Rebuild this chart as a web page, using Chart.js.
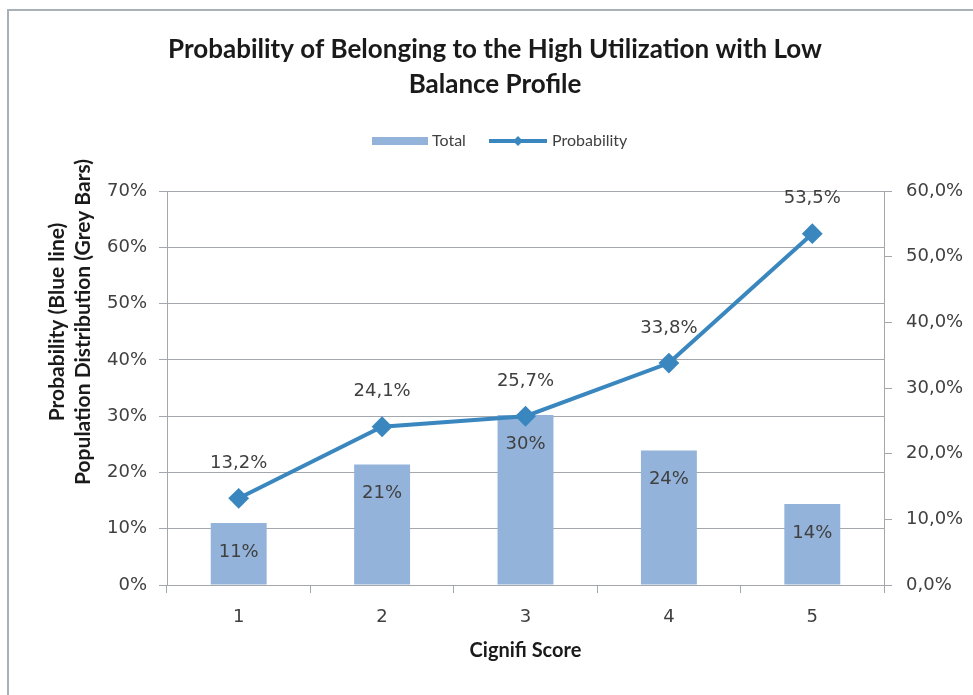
<!DOCTYPE html>
<html>
<head>
<meta charset="utf-8">
<title>Probability of Belonging to the High Utilization with Low Balance Profile</title>
<script src="https://cdn.jsdelivr.net/npm/chart.js@4"></script>
<style>
  html, body { margin: 0; padding: 0; background: #ffffff; }
  canvas { display: block; }
</style>
</head>
<body>
<canvas id="chart" width="973" height="695"></canvas>
<script>
// Score buckets and the two series plotted against them
const categories = ['1', '2', '3', '4', '5'];
const populationShare = [11.0, 21.4, 30.2, 23.9, 14.4];   // % of population (bars, left axis)
const probability = [13.2, 24.1, 25.7, 33.8, 53.5];        // % probability (line, right axis)

const titleLines = ['Probability of Belonging to the High Utilization with Low', 'Balance Profile'];
const leftAxisTitle = ['Probability (Blue line)', 'Population Distribution (Grey Bars)'];
const xAxisTitle = 'Cignifi Score';
const leftAxisMax = 70;
const rightAxisMax = 60;

const BAR_COLOR = '#93b3da';
const LINE_COLOR = '#3a87bf';
const GRID_COLOR = '#a4a8ac';
const TEXT_COLOR = '#404040';
const TICK_FONT = { family: 'DejaVu Sans', size: 18 };

const fmtComma = (v, d) => v.toFixed(d).replace('.', ',') + '%';

// Title, legend, axis title and value labels drawn on the canvas
const decorations = {
  id: 'decorations',
  beforeDraw(chart) {
    const ctx = chart.ctx;
    ctx.save();
    ctx.fillStyle = '#ffffff';
    ctx.fillRect(0, 0, chart.width, chart.height);
    // frame
    ctx.strokeStyle = '#a9b0b6';
    ctx.lineWidth = 2;
    ctx.beginPath();
    ctx.moveTo(8, chart.height);
    ctx.lineTo(8, 10);
    ctx.lineTo(chart.width, 10);
    ctx.stroke();
    ctx.restore();
  },
  afterDatasetsDraw(chart) {
    const ctx = chart.ctx;
    ctx.save();
    ctx.fillStyle = TEXT_COLOR;
    ctx.font = `${TICK_FONT.size}px "${TICK_FONT.family}"`;
    ctx.textAlign = 'center';
    ctx.textBaseline = 'middle';
    const lineMeta = chart.getDatasetMeta(0);
    const barMeta = chart.getDatasetMeta(1);
    barMeta.data.forEach((bar, i) => {
      ctx.fillText(fmtComma(populationShare[i], 0), bar.x, bar.y + 29);
    });
    lineMeta.data.forEach((pt, i) => {
      ctx.fillText(fmtComma(probability[i], 1), pt.x, pt.y - 35);
    });
    ctx.restore();
  },
  afterDraw(chart) {
    const ctx = chart.ctx;
    ctx.save();
    ctx.fillStyle = '#1a1a1a';
    ctx.textAlign = 'center';
    ctx.textBaseline = 'middle';
    // title
    ctx.font = 'bold 26px Lato';
    ctx.fillText(titleLines[0], 495, 50);
    ctx.fillText(titleLines[1], 495, 85);

    // legend
    ctx.fillStyle = BAR_COLOR;
    ctx.fillRect(372, 137, 56, 8);
    ctx.fillStyle = TEXT_COLOR;
    ctx.font = '16px Lato';
    ctx.textAlign = 'left';
    ctx.fillText('Total', 432, 141);
    ctx.strokeStyle = LINE_COLOR;
    ctx.lineWidth = 4;
    ctx.beginPath();
    ctx.moveTo(489, 141);
    ctx.lineTo(547, 141);
    ctx.stroke();
    ctx.fillStyle = LINE_COLOR;
    ctx.beginPath();
    ctx.moveTo(518, 136); ctx.lineTo(523, 141); ctx.lineTo(518, 146); ctx.lineTo(513, 141);
    ctx.closePath();
    ctx.fill();
    ctx.fillStyle = TEXT_COLOR;
    ctx.fillText('Probability', 552, 141);

    // left axis title (two lines, rotated)
    ctx.fillStyle = '#1a1a1a';
    ctx.font = 'bold 21px Lato';
    ctx.textAlign = 'center';
    ctx.translate(70, 322);
    ctx.rotate(-Math.PI / 2);
    ctx.fillText(leftAxisTitle[0], 0, -13);
    ctx.fillText(leftAxisTitle[1], 0, 13);
    ctx.restore();
  }
};

new Chart(document.getElementById('chart'), {
  data: {
    labels: categories,
    datasets: [
      {
        type: 'line',
        label: 'Probability',
        data: probability,
        yAxisID: 'yRight',
        order: 1,
        borderColor: LINE_COLOR,
        backgroundColor: LINE_COLOR,
        borderWidth: 4,
        pointStyle: 'rectRot',
        pointRadius: 9,
        pointBorderWidth: 2,
        pointBackgroundColor: LINE_COLOR,
        pointBorderColor: LINE_COLOR,
        tension: 0
      },
      {
        type: 'bar',
        label: 'Total',
        data: populationShare,
        yAxisID: 'yLeft',
        order: 2,
        backgroundColor: BAR_COLOR,
        borderWidth: 0,
        categoryPercentage: 1.0,
        barPercentage: 0.39
      }
    ]
  },
  options: {
    responsive: false,
    animation: false,
    layout: { padding: { top: 191, left: 0, right: 0, bottom: 0 } },
    plugins: {
      legend: { display: false },
      title: { display: false },
      tooltip: { enabled: false }
    },
    scales: {
      x: {
        type: 'category',
        offset: true,
        grid: {
          offset: true,
          drawOnChartArea: false,
          drawTicks: true,
          tickLength: 8,
          color: GRID_COLOR
        },
        border: { display: true, color: GRID_COLOR, width: 1 },
        ticks: { color: TEXT_COLOR, font: TICK_FONT, padding: 14 },
        title: {
          display: true,
          text: xAxisTitle,
          color: '#1a1a1a',
          font: { family: 'Lato', size: 20, weight: 'bold' },
          padding: { top: 0, bottom: 32 }
        },
        afterFit(scale) { scale.height = 110; }
      },
      yLeft: {
        type: 'linear',
        position: 'left',
        min: 0,
        max: leftAxisMax,
        grid: {
          color: GRID_COLOR,
          drawTicks: true,
          tickLength: 8
        },
        border: { display: true, color: GRID_COLOR, width: 1 },
        ticks: {
          stepSize: 10,
          color: TEXT_COLOR,
          font: TICK_FONT,
          padding: 12,
          callback: (v) => fmtComma(v, 0)
        },
        afterFit(scale) { scale.width = 167; }
      },
      yRight: {
        type: 'linear',
        position: 'right',
        min: 0,
        max: rightAxisMax,
        grid: {
          drawOnChartArea: false,
          drawTicks: true,
          tickLength: 8,
          color: GRID_COLOR
        },
        border: { display: true, color: GRID_COLOR, width: 1 },
        ticks: {
          stepSize: 10,
          color: TEXT_COLOR,
          font: TICK_FONT,
          padding: 14,
          callback: (v) => fmtComma(v, 1)
        },
        afterFit(scale) { scale.width = 89; }
      }
    }
  },
  plugins: [decorations]
});
</script>
</body>
</html>
